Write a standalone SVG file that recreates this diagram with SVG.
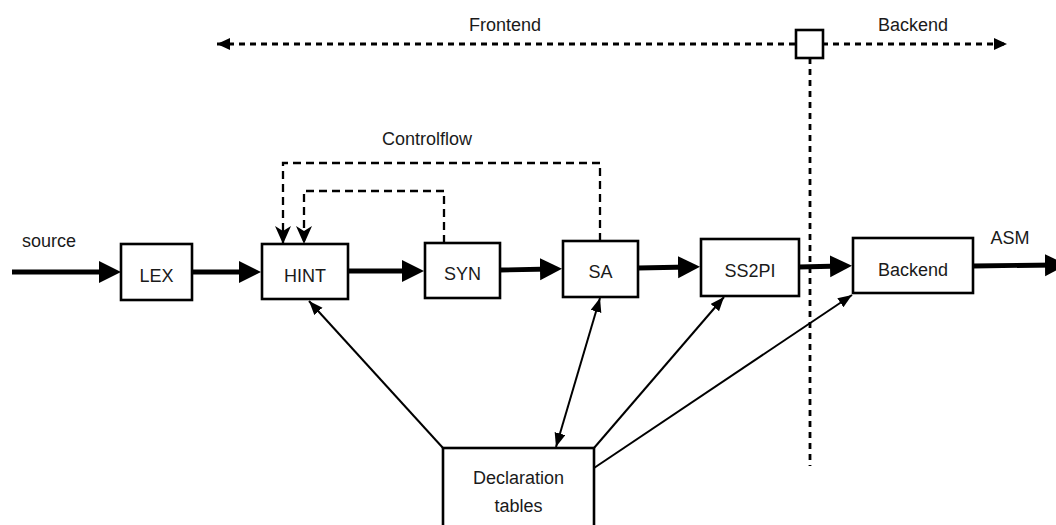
<svg xmlns="http://www.w3.org/2000/svg" width="1056" height="525" viewBox="0 0 1056 525">
  <style>
    text { font-family: "Liberation Sans", Arial, sans-serif; font-size: 18px; fill: #1a1a1a; text-anchor: middle; }
    .box { fill: #fff; stroke: #000; stroke-width: 2.6; }
    .flow { fill: none; stroke: #000; stroke-width: 4.8; marker-end: url(#bigArrow); }
    .ctrl { fill: none; stroke: #000; stroke-width: 2.3; stroke-dasharray: 8 5; marker-end: url(#ctrlArrow); }
    .phase { fill: none; stroke: #000; stroke-width: 2.8; stroke-dasharray: 6 5; }
    .link { fill: none; stroke: #000; stroke-width: 2; marker-end: url(#thinArrow); }
  </style>
  <defs>
    <marker id="bigArrow" markerUnits="userSpaceOnUse" markerWidth="24" markerHeight="24" refX="11" refY="11" orient="auto">
      <path d="M0,0 L22,11 L0,22 Z" fill="#000"/>
    </marker>
    <marker id="ctrlArrow" markerUnits="userSpaceOnUse" markerWidth="20" markerHeight="18" refX="18" refY="8" orient="auto">
      <path d="M0,0 L18,8 L0,16 L5,8 Z" fill="#000"/>
    </marker>
    <marker id="thinArrow" markerUnits="userSpaceOnUse" markerWidth="16" markerHeight="12" refX="14" refY="5.5" orient="auto-start-reverse">
      <path d="M0,0 L14,5.5 L0,11 Z" fill="#000"/>
    </marker>
    <marker id="phaseArrow" markerUnits="userSpaceOnUse" markerWidth="15" markerHeight="13" refX="13" refY="6" orient="auto-start-reverse">
      <path d="M0,0 L13,6 L0,12 Z" fill="#000"/>
    </marker>
  </defs>

  <!-- connectors -->
  <g id="connectors">
    <!-- main pipeline -->
    <path class="flow" d="M12,272 L110,272"/>
    <path class="flow" d="M192,272 L250,272"/>
    <path class="flow" d="M348,271 L413,271"/>
    <path class="flow" d="M500,270 L551,269"/>
    <path class="flow" d="M638,268 L689,267"/>
    <path class="flow" d="M799,267 L841,266"/>
    <path class="flow" d="M973,266 L1056,265"/>

    <!-- control flow back to HINT -->
    <path class="ctrl" d="M600,241 V163 H283 V244"/>
    <path class="ctrl" d="M444,243 V191 H304 V244"/>

    <!-- frontend / backend split -->
    <path class="phase" d="M217,44 H1007" marker-start="url(#phaseArrow)" marker-end="url(#phaseArrow)"/>
    <path class="phase" d="M810,58 V466" stroke-dasharray="5 5"/>

    <!-- declaration table access -->
    <path class="link" d="M443,448 L309,301"/>
    <path class="link" d="M600,298 L556,447" marker-start="url(#thinArrow)"/>
    <path class="link" d="M594,448 L724,297"/>
    <path class="link" d="M594,468 L852,295"/>
  </g>

  <g id="phase-split">
    <rect class="box" x="796" y="30" width="27" height="28" stroke-width="2.8"/>
  </g>

  <g id="label-frontend"><text x="505" y="31">Frontend</text></g>
  <g id="label-backend"><text x="913" y="31">Backend</text></g>
  <g id="label-controlflow"><text x="427" y="145">Controlflow</text></g>
  <g id="label-source"><text x="49" y="247">source</text></g>
  <g id="label-asm"><text x="1010" y="244">ASM</text></g>

  <g id="node-lex">
    <rect class="box" x="121" y="244" width="71" height="56"/>
    <text x="156.5" y="282">LEX</text>
  </g>
  <g id="node-hint">
    <rect class="box" x="262" y="244" width="86" height="55"/>
    <text x="305" y="282">HINT</text>
  </g>
  <g id="node-syn">
    <rect class="box" x="425" y="243" width="75" height="55"/>
    <text x="462.5" y="280">SYN</text>
  </g>
  <g id="node-sa">
    <rect class="box" x="563" y="241" width="75" height="56"/>
    <text x="600.5" y="278">SA</text>
  </g>
  <g id="node-ss2pi">
    <rect class="box" x="701" y="239" width="98" height="57"/>
    <text x="750" y="277">SS2PI</text>
  </g>
  <g id="node-backend">
    <rect class="box" x="853" y="238" width="120" height="55"/>
    <text x="913" y="276">Backend</text>
  </g>
  <g id="node-decl">
    <rect class="box" x="443" y="448" width="151" height="95"/>
    <text x="518.5" y="484">Declaration</text>
    <text x="518.5" y="512">tables</text>
  </g>
</svg>
